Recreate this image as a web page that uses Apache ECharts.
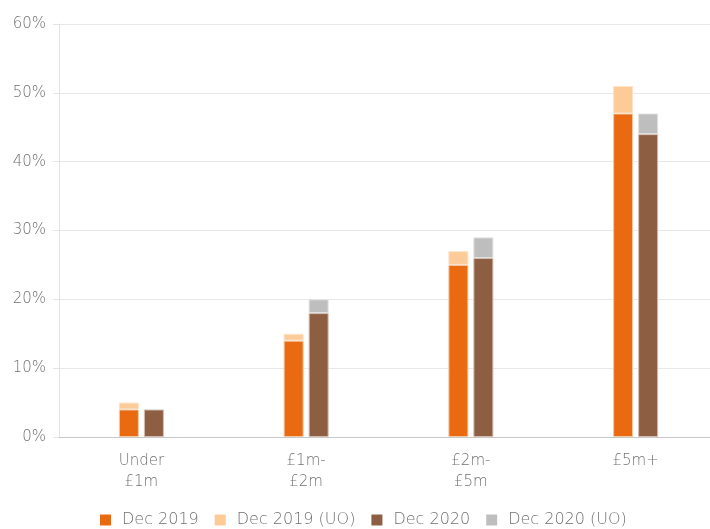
<!DOCTYPE html>
<html><head><meta charset="utf-8">
<script src="https://cdn.jsdelivr.net/npm/echarts@6/dist/echarts.min.js"></script>
<style>html,body{margin:0;padding:0;background:#fff}#c{width:710px;height:529px}</style>
</head><body><div id="c"></div>
<script>
const categories = ["Under\n£1m", "£1m-\n£2m", "£2m-\n£5m", "£5m+"];
const dec2019 = [4, 14, 25, 47];
const dec2019UO = [1, 1, 2, 4];
const dec2020 = [4, 18, 26, 44];
const dec2020UO = [0, 2, 3, 3];
const yTicks = [0, 10, 20, 30, 40, 50, 60];

const chart = echarts.init(document.getElementById('c'));
const font = '"DejaVu Sans", sans-serif';
function bar(name, data, stack, color, border) {
  return {
    name, type: 'bar', stack, data, barWidth: 20,
    itemStyle: { color, borderColor: border, borderWidth: 1 },
    barGap: '25%'
  };
}
chart.setOption({
  animation: false,
  textStyle: { fontFamily: font },
  grid: { left: 59, top: 24, width: 659, height: 413, outerBoundsMode: 'none', containLabel: false },
  legend: {
    top: 507, left: 95, itemWidth: 11, itemHeight: 11, itemGap: 16,
    icon: 'rect',
    itemStyle: { borderWidth: 0 },
    textStyle: { color: '#707070', fontSize: 16, fontWeight: 200, fontFamily: font, padding: [0, 0, 0, 6] },
    data: ['Dec 2019', 'Dec 2019 (UO)', 'Dec 2020', 'Dec 2020 (UO)']
  },
  xAxis: {
    type: 'category', data: categories,
    axisLine: { lineStyle: { color: '#c8c8c8' } },
    axisTick: { show: false },
    axisLabel: { color: '#707070', fontSize: 15, fontWeight: 200, margin: 14, lineHeight: 21, fontFamily: font }
  },
  yAxis: {
    type: 'value', min: 0, max: 60, interval: 10,
    axisLine: { show: true, lineStyle: { color: '#e4e4e4' } },
    axisTick: { show: true, length: 6, lineStyle: { color: '#e4e4e4' } },
    splitLine: { lineStyle: { color: '#e8e8e8' } },
    axisLabel: { color: '#707070', fontSize: 15, fontWeight: 200, margin: 13, fontFamily: font,
      formatter: v => yTicks.includes(v) ? v + '%' : '' }
  },
  series: [
    bar('Dec 2019', dec2019, 'a', '#E96A10', '#F4C9A6'),
    bar('Dec 2019 (UO)', dec2019UO, 'a', '#FDCB98', '#FBE3CB'),
    bar('Dec 2020', dec2020, 'b', '#8E5E42', '#D2BDB0'),
    bar('Dec 2020 (UO)', dec2020UO, 'b', '#BEBEBE', '#E2E2E2')
  ]
});
</script></body></html>
